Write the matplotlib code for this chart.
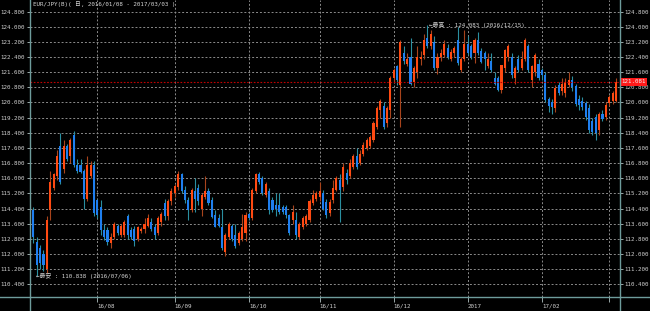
import numpy as np
import pandas as pd
import matplotlib
matplotlib.use('Agg')
import matplotlib.pyplot as plt
import matplotlib.transforms as mtransforms
from matplotlib.lines import Line2D

plt.rcParams['font.family'] = ['DejaVu Sans Mono', 'Noto Sans CJK JP']

# daily EUR/JPY candles, 2016/07/04 .. 2017/03/03 (weekdays)
dates = pd.bdate_range('2016-07-04', '2017-03-03')

opens = [114.0, 114.3, 112.65, 112.3, 112.0, 111.2, 114.3, 115.5, 116.1, 117.7,
         116.5, 117.7, 117.2, 118.3, 116.7, 116.7, 116.4, 114.9, 116.1, 116.7,
         114.85, 114.5, 113.27, 113.27, 112.6, 112.9, 113.5, 113.0, 113.0, 114.0,
         113.27, 113.3, 112.8, 113.2, 113.3, 113.5, 113.7, 113.4, 113.1, 113.7,
         114.7, 114.0, 114.8, 115.2, 115.55, 116.2, 115.4, 114.85, 114.3, 115.3,
         115.5, 114.4, 115.0, 115.3, 114.85, 114.05, 113.9, 113.4, 112.1, 112.9,
         113.5, 113.0, 112.6, 112.8, 113.1, 114.1, 113.9, 115.3, 116.25, 116.0,
         115.1, 115.3, 114.85, 114.6, 114.6, 114.5, 114.5, 114.05, 113.8, 113.8,
         112.9, 113.4, 113.6, 113.8, 114.7, 114.9, 115.0, 115.2, 114.76, 114.15,
         114.85, 115.4, 115.9, 115.55, 116.3, 116.1, 116.6, 117.15, 116.8, 117.3,
         117.6, 117.7, 118.0, 118.7, 119.6, 119.8, 118.9, 119.6, 121.3, 121.9,
         120.9, 122.6, 122.05, 122.4, 121.1, 121.6, 122.3, 122.5, 123.4, 123.0,
         123.2, 121.8, 122.4, 122.5, 122.85, 122.3, 122.6, 123.3, 121.7, 122.3,
         123.1, 123.0, 122.6, 123.3, 122.7, 122.6, 121.9, 122.2, 121.3, 121.3,
         120.65, 121.8, 122.4, 122.4, 121.3, 122.3, 121.8, 122.3, 123.0, 121.2,
         121.6, 122.05, 121.7, 121.45, 120.2, 120.05, 119.7, 120.9, 120.6, 120.5,
         120.9, 121.2, 120.85, 120.2, 120.1, 119.95, 119.7, 119.0, 119.25, 118.55,
         119.4, 119.25, 119.95, 120.1, 120.1]

highs = [114.6, 114.5, 112.9, 112.5, 112.2, 114.0, 116.4, 116.3, 117.5, 118.4,
         118.0, 117.8, 118.1, 118.5, 117.0, 117.0, 116.5, 117.2, 116.9, 116.9,
         114.9, 114.85, 113.6, 113.45, 113.1, 113.7, 113.6, 113.6, 113.8, 114.1,
         113.4, 113.5, 113.5, 113.4, 113.9, 114.1, 113.9, 113.6, 114.0, 114.2,
         114.9, 114.9, 115.5, 115.7, 116.4, 116.3, 115.6, 115.0, 115.5, 116.0,
         115.7, 115.2, 116.1, 115.5, 115.0, 114.3, 114.1, 114.4, 113.1, 113.7,
         113.6, 113.6, 113.2, 114.1, 114.2, 114.2, 115.5, 116.3, 116.35, 116.1,
         115.8, 115.5, 115.0, 115.2, 115.2, 114.6, 114.6, 114.1, 114.6, 114.2,
         113.7, 114.0, 114.1, 114.9, 115.4, 115.3, 115.8, 115.4, 114.9, 114.9,
         115.9, 116.1, 116.2, 116.8, 116.5, 117.0, 117.3, 117.6, 117.5, 117.9,
         118.1, 118.3, 119.0, 119.8, 120.2, 120.0, 119.8, 121.4, 121.8, 122.0,
         123.3, 123.0, 122.6, 123.4, 121.9, 123.0, 122.7, 123.6, 124.083, 123.8,
         123.5, 122.6, 122.8, 123.3, 123.1, 122.8, 123.0, 124.0, 122.4, 123.85,
         123.5, 123.1, 123.4, 123.7, 122.9, 122.7, 122.6, 122.6, 121.6, 121.4,
         122.0, 122.8, 123.1, 122.6, 121.9, 122.5, 122.7, 123.4, 123.1, 122.0,
         122.6, 122.3, 121.8, 121.6, 120.3, 120.2, 120.9, 121.1, 121.3, 121.3,
         121.6, 121.4, 121.0, 120.4, 120.3, 120.1, 119.9, 119.2, 119.4, 119.5,
         119.6, 120.0, 120.4, 120.6, 121.3]

lows = [113.8, 112.6, 110.838, 111.2, 111.1, 111.0, 113.8, 115.4, 115.9, 115.7,
        116.3, 116.9, 116.8, 116.6, 116.3, 116.3, 114.4, 114.8, 116.0, 114.0,
        113.9, 113.0, 112.75, 112.5, 112.3, 112.8, 113.0, 112.9, 112.9, 112.8,
        112.8, 112.4, 112.7, 113.1, 113.1, 113.4, 113.2, 112.8, 113.0, 113.5,
        113.8, 113.8, 114.6, 115.0, 115.4, 115.2, 114.7, 113.8, 114.2, 114.2,
        114.6, 114.0, 114.9, 114.6, 113.9, 113.4, 113.4, 112.2, 111.9, 112.8,
        112.7, 112.3, 112.5, 112.7, 112.7, 113.8, 113.8, 115.2, 115.7, 115.1,
        115.0, 114.1, 114.2, 114.0, 114.1, 114.1, 113.9, 113.0, 113.6, 112.8,
        112.8, 113.3, 113.5, 113.7, 114.6, 114.8, 114.8, 114.3, 113.9, 114.0,
        114.7, 115.3, 113.7, 115.3, 115.7, 116.0, 116.5, 116.5, 116.7, 117.2,
        117.5, 117.6, 117.9, 118.6, 119.2, 118.6, 118.7, 119.2, 121.1, 120.9,
        118.7, 122.05, 121.9, 120.9, 120.8, 121.3, 122.0, 122.3, 122.9, 122.8,
        121.7, 121.5, 122.2, 122.4, 122.3, 122.2, 122.4, 122.0, 121.6, 122.2,
        122.5, 122.3, 122.1, 122.5, 122.1, 121.7, 121.8, 121.6, 120.9, 120.6,
        120.5, 121.6, 122.2, 121.3, 121.0, 121.6, 121.7, 122.2, 121.6, 120.8,
        121.4, 121.2, 121.2, 120.0, 119.5, 119.4, 119.5, 120.4, 120.4, 120.3,
        120.8, 120.6, 119.8, 119.6, 119.6, 119.1, 118.4, 118.3, 118.0, 118.3,
        119.0, 119.1, 119.8, 119.9, 120.0]

closes = [114.5, 112.9, 111.4, 111.5, 111.4, 113.8, 115.8, 116.2, 117.2, 115.8,
          117.7, 117.0, 118.0, 116.7, 116.4, 116.35, 114.9, 116.7, 116.7, 114.15,
          114.06, 113.27, 112.9, 112.65, 112.9, 113.6, 113.1, 113.5, 113.7, 113.0,
          112.9, 112.7, 113.4, 113.3, 113.6, 113.9, 113.3, 113.0, 113.9, 114.1,
          114.0, 114.8, 115.3, 115.6, 116.2, 115.3, 114.85, 114.3, 115.4, 114.9,
          114.8, 115.1, 115.3, 114.7, 113.97, 113.4, 113.5, 112.3, 113.0, 113.6,
          112.8, 112.4, 113.1, 113.4, 114.05, 113.9, 115.4, 116.2, 115.8, 115.2,
          115.7, 114.3, 114.3, 114.4, 114.2, 114.2, 114.05, 113.1, 114.2, 113.0,
          113.6, 113.9, 114.0, 114.8, 115.1, 115.2, 115.3, 114.4, 114.06, 114.76,
          115.47, 116.0, 115.4, 116.6, 115.9, 116.8, 117.2, 116.6, 117.3, 117.75,
          118.0, 118.2, 118.9, 119.7, 120.1, 118.7, 119.7, 121.3, 121.7, 121.2,
          123.2, 122.2, 122.3, 121.0, 121.8, 122.4, 122.4, 123.3, 123.0, 123.6,
          121.8, 122.4, 122.6, 123.1, 122.4, 122.65, 122.9, 122.1, 122.3, 123.1,
          122.6, 122.4, 123.3, 122.6, 122.15, 122.3, 122.3, 121.7, 121.0, 120.65,
          121.98, 122.75, 123.0, 121.45, 121.8, 121.7, 122.3, 123.3, 121.7, 121.9,
          122.5, 121.3, 121.45, 120.13, 119.8, 119.75, 120.75, 120.5, 121.0, 121.1,
          121.2, 120.8, 119.9, 119.85, 119.75, 119.25, 118.55, 118.45, 118.4, 119.4,
          119.15, 119.85, 120.3, 120.5, 121.081]

price_ticks = [110.4, 111.2, 112.0, 112.8, 113.6, 114.4, 115.2, 116.0, 116.8, 117.6,
               118.4, 119.2, 120.0, 120.8, 121.6, 122.4, 123.2, 124.0, 124.8]
month_labels = ['16/08', '16/09', '16/10', '16/11', '16/12', '2017', '17/02', '']
last_price = 121.081
title = 'EUR/JPY(B)( 日, 2016/01/08 - 2017/03/03 )'
high_text = '←最高 : 124.083 (2016/12/15)'
low_text = '←最安 : 110.838 (2016/07/06)'
high_date = '2016-12-15'
low_date = '2016-07-06'

o = np.array(opens)
h = np.array(highs)
l = np.array(lows)
c = np.array(closes)
x = np.arange(len(dates))

W, H = 650, 311
fs = 4.2
fig = plt.figure(figsize=(W / 100, H / 100), dpi=100, facecolor='black')
left_px, right_px, bottom_px = 29.5, 620, 14
ax = fig.add_axes([left_px / W, bottom_px / H, (right_px - left_px) / W, (H - bottom_px) / H])
ax.set_facecolor('black')

up = c >= o
body_col = np.where(up, '#ff4a12', '#1f7fef')
wick_col = np.where(up, '#a8441c', '#2a8fa0')

ax.vlines(x, l, h, colors=wick_col, lw=0.8, zorder=2)
ax.bar(x, np.maximum(np.abs(c - o), 0.04), bottom=np.minimum(o, c), width=0.62,
       color=body_col, linewidth=0, zorder=3)

ax.set_xlim(-0.15, 175.2)
ax.set_ylim(109.73, 125.41)

# month grid
mpos = [i for i in range(1, len(dates)) if dates[i].month != dates[i - 1].month]
ax.set_xticks(mpos)
ax.set_xticklabels(month_labels)
for t in ax.get_xticklabels():
    t.set_ha('left')
ax.set_yticks(price_ticks)
ax.set_yticklabels(['%.3f' % v for v in price_ticks])

grid_kw = dict(color='#8c8c8c', linestyle=(0, (2, 2)), linewidth=0.7)
ax.grid(True, **grid_kw)
ax.set_axisbelow(True)

ax.tick_params(axis='y', left=True, right=True, labelleft=True, labelright=True,
               length=2.5, width=0.7, color='#9aa8a8', labelcolor='#cfcfcf',
               labelsize=fs, pad=0.6)
ax.tick_params(axis='x', length=3.5, width=0.7, color='#9aa8a8', labelcolor='#cfcfcf',
               labelsize=fs, pad=1.5)
for s in ax.spines.values():
    s.set_visible(False)

# frame lines across the whole figure
frame = '#6e9c9c'
fig.add_artist(Line2D([left_px / W] * 2, [0, 1], color=frame, lw=1))
fig.add_artist(Line2D([right_px / W] * 2, [0, 1], color=frame, lw=1))
fig.add_artist(Line2D([0, 1], [bottom_px / H] * 2, color=frame, lw=1))

# current price
ax.axhline(last_price, color='#c00000', linestyle=(0, (1.5, 1.5)), lw=0.8, zorder=4)
trans = mtransforms.blended_transform_factory(ax.transAxes, ax.transData)
ax.text(1.003, last_price, '%.3f' % last_price, transform=trans, ha='left', va='center',
        fontsize=fs, color='#f0f0f0', clip_on=False, zorder=6,
        bbox=dict(boxstyle='square,pad=0.2', fc='#ff1a1a', ec='none'))

# high / low notes
hi_i = dates.get_loc(pd.Timestamp(high_date))
lo_i = dates.get_loc(pd.Timestamp(low_date))
ax.text(hi_i + 0.4, h[hi_i], high_text, ha='left', va='center', fontsize=fs,
        color='#d4d4d4', zorder=6)
ax.text(lo_i - 0.2, l[lo_i], low_text, ha='left', va='center', fontsize=fs,
        color='#d4d4d4', zorder=6)

fig.text(33 / W, 1 - 1.5 / H, title, ha='left', va='top', fontsize=fs, color='#d4d4d4')

fig.savefig('out.png', dpi=100, facecolor='black')
